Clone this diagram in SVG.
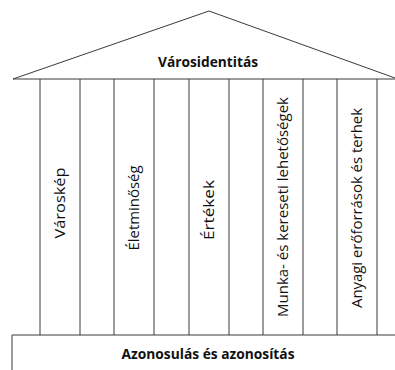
<svg xmlns="http://www.w3.org/2000/svg" width="395" height="370" viewBox="0 0 395 370">
<style>
.ln{stroke:#3a3a3a;stroke-width:1;fill:none}
.t{font-family:"Open Sans","Noto Sans","Liberation Sans",sans-serif;font-size:15px;fill:#111;text-anchor:middle}
.b{font-weight:bold}
</style>
<rect width="395" height="370" fill="#fff"/>
<g id="roof">
<polyline class="ln" points="395,78 209,11 13,79 395,79"/>
<text class="t b" x="208" y="67" textLength="100" lengthAdjust="spacingAndGlyphs">Városidentitás</text>
</g>
<g id="connectors">
<line class="ln" x1="40" y1="79" x2="40" y2="335"/>
<line class="ln" x1="80" y1="79" x2="80" y2="335"/>
<line class="ln" x1="114" y1="79" x2="114" y2="335"/>
<line class="ln" x1="154" y1="79" x2="154" y2="335"/>
<line class="ln" x1="189" y1="79" x2="189" y2="335"/>
<line class="ln" x1="229" y1="79" x2="229" y2="335"/>
<line class="ln" x1="263" y1="79" x2="263" y2="335"/>
<line class="ln" x1="303" y1="79" x2="303" y2="335"/>
<line class="ln" x1="337" y1="79" x2="337" y2="335"/>
<line class="ln" x1="377" y1="79" x2="377" y2="335"/>
</g>
<g id="col-varoskep">
<text class="t" transform="translate(65,203) rotate(-90)" textLength="71" lengthAdjust="spacingAndGlyphs">Városkép</text>
</g>
<g id="col-eletminoseg">
<text class="t" transform="translate(139,208) rotate(-90)" textLength="85" lengthAdjust="spacingAndGlyphs">Életminőség</text>
</g>
<g id="col-ertekek">
<text class="t" transform="translate(214,210) rotate(-90)" textLength="60" lengthAdjust="spacingAndGlyphs">Értékek</text>
</g>
<g id="col-munka">
<text class="t" transform="translate(288,207) rotate(-90)" textLength="220" lengthAdjust="spacingAndGlyphs">Munka- és kereseti lehetőségek</text>
</g>
<g id="col-anyagi">
<text class="t" transform="translate(362,208) rotate(-90)" textLength="200" lengthAdjust="spacingAndGlyphs">Anyagi erőforrások és terhek</text>
</g>
<g id="base">
<polyline class="ln" points="12,370 12,335 395,335"/>
<text class="t b" x="208" y="359" textLength="173" lengthAdjust="spacingAndGlyphs">Azonosulás és azonosítás</text>
</g>
</svg>
